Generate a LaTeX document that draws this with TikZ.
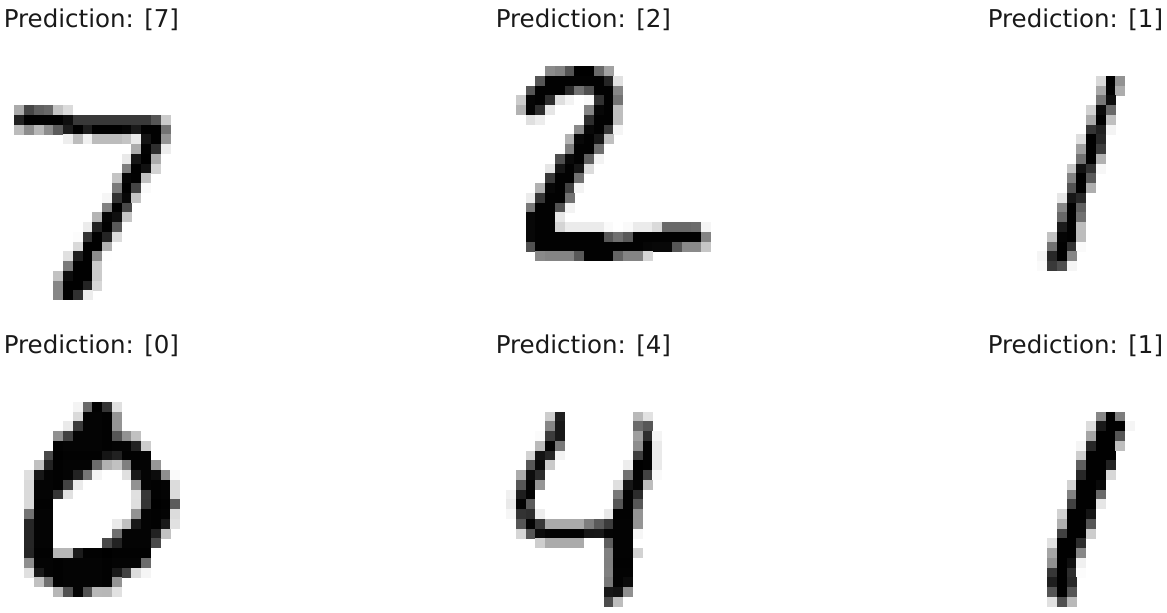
\documentclass[tikz,border=0pt]{standalone}
\usepackage{fontspec}
\setmainfont{DejaVu Sans}

\tikzset{
  predlabel/.style={anchor=base west, inner sep=0pt, font=\fontsize{18.4}{22}\selectfont, text=black!90},
}

% one row of grey cells per entry: row/first column/{values 0..255}
\newcommand{\digitcells}[2]{%
  \begin{scope}[shift={(#1)}]
    \foreach \r/\c/\vals in {#2}{
      \foreach \v [count=\i from 0] in \vals {
        \pgfmathsetmacro{\g}{\v/2.55}
        \fill[black!\g] ({9.75*(\c+\i)},{9.75*\r}) rectangle ++(10.1,10.1);
      }
    }
  \end{scope}
}

\begin{document}
\begin{tikzpicture}[x=0.75pt, y=-0.75pt]
  \useasboundingbox (0,0) rectangle (1167,612);

  % Coordinates
  \coordinate (D7) at (-44.2, 36.75);
  \coordinate (D2) at (447.5, 36.75);
  \coordinate (D1) at (939.8, 36.75);
  \coordinate (D0) at (-44.2, 362.75);
  \coordinate (D4) at (447.5, 362.75);
  \coordinate (D5) at (939.8, 362.75);

  % Titles
  \node[predlabel] (title7) at (3.5, 27) {Prediction: [7]};
  \node[predlabel] (title2) at (495.5, 27) {Prediction: [2]};
  \node[predlabel] (title1) at (987.5, 27) {Prediction: [1]};
  \node[predlabel] (title0) at (3.5, 353) {Prediction: [0]};
  \node[predlabel] (title4) at (495.5, 353) {Prediction: [4]};
  \node[predlabel] (title5) at (987.5, 353) {Prediction: [1]};

  % Drawing
  \digitcells{D7}{
    7/6/{84,185,159,151,60,36},
    8/6/{222,254,254,254,254,241,198,198,198,198,198,198,198,198,170,52},
    9/6/{67,114,72,114,163,227,254,225,254,254,254,250,229,254,254,140},
    10/11/{17,66,14,67,67,67,59,21,236,254,106},
    11/18/{83,253,209,18},
    12/17/{22,233,255,83},
    13/17/{129,254,238,44},
    14/16/{59,249,254,62},
    15/16/{133,254,187,5},
    16/15/{9,205,248,58},
    17/15/{126,254,182},
    18/14/{75,251,240,57},
    19/13/{19,221,254,166},
    20/12/{3,203,254,219,35},
    21/12/{38,254,254,77},
    22/11/{31,224,254,115,1},
    23/11/{133,254,254,52},
    24/10/{61,242,254,254,52},
    25/10/{121,254,254,219,40},
    26/10/{121,254,207,18}}

  \digitcells{D2}{
    3/10/{116,125,171,255,255,150,93},
    4/9/{169,253,253,253,253,253,253,218,30},
    5/8/{169,253,253,253,213,142,176,253,253,122},
    6/7/{52,250,253,210,32,12,0,6,206,253,140},
    7/7/{77,251,210,25,0,0,0,122,248,253,65},
    8/8/{31,18,0,0,0,0,209,253,253,65},
    9/13/{117,247,253,198,10},
    10/12/{76,247,253,231,63},
    11/12/{128,253,253,144},
    12/11/{176,246,253,159,12},
    13/10/{25,234,253,233,35},
    14/10/{198,253,253,141},
    15/9/{78,248,253,189,12},
    16/8/{19,200,253,253,141},
    17/8/{134,253,253,173,12},
    18/8/{248,253,253,25},
    19/8/{248,253,253,43,20,20,20,20,5,0,5,20,20,37,150,150,150,147,10},
    20/8/{248,253,253,253,253,253,253,253,168,143,166,253,253,253,253,253,253,253,123},
    21/8/{174,253,253,253,253,253,253,253,253,253,253,253,249,247,247,169,117,117,57},
    22/9/{118,123,123,123,166,253,253,253,155,123,123,41}}

  \digitcells{D1}{
    4/16/{38,254,109},
    5/16/{87,252,82},
    6/16/{135,241},
    7/15/{45,244,150},
    8/15/{84,254,63},
    9/15/{202,223,11},
    10/14/{32,254,216},
    11/14/{95,254,195},
    12/14/{140,254,77},
    13/13/{57,237,205,8},
    14/13/{124,255,165},
    15/13/{171,254,81},
    16/12/{24,232,215},
    17/12/{120,254,159},
    18/12/{151,254,142},
    19/12/{228,254,66},
    20/11/{61,251,254,66},
    21/11/{141,254,205,5},
    22/10/{10,215,254,121},
    23/10/{5,198,176,10}}

  \digitcells{D0}{
    4/12/{11,150,253,202,31},
    5/12/{37,251,251,253,107},
    6/11/{21,197,251,251,253,107},
    7/10/{110,190,251,251,251,253,169,109,62},
    8/10/{253,251,251,251,251,253,251,251,220,51},
    9/9/{182,255,253,253,253,253,234,222,253,253,253},
    10/8/{63,221,253,251,251,251,147,77,62,128,251,251,105},
    11/7/{32,231,251,253,251,220,137,10,0,0,31,230,251,243,113,5},
    12/7/{37,251,251,253,188,20,0,0,0,0,0,109,251,253,251,35},
    13/7/{37,251,251,201,30,0,0,0,0,0,0,31,200,253,251,35},
    14/7/{37,253,253,0,0,0,0,0,0,0,0,32,202,255,253,164},
    15/7/{140,251,251,0,0,0,0,0,0,0,0,109,251,253,251,35},
    16/7/{217,251,251,0,0,0,0,0,0,21,63,231,251,253,230,30},
    17/7/{217,251,251,0,0,0,0,0,0,144,251,251,251,221,61},
    18/7/{217,251,251,0,0,0,0,0,182,221,251,251,251,180},
    19/7/{218,253,253,73,73,228,253,253,255,253,253,253,253},
    20/7/{113,251,251,253,251,251,251,251,253,251,251,251,147},
    21/7/{31,230,251,253,251,251,251,251,253,230,189,35,10},
    22/8/{62,142,253,251,251,251,251,253,107},
    23/10/{72,174,251,173,71,72,30}}

  \digitcells{D4}{
    5/10/{50,224,0,0,0,0,0,0,0,70,29},
    6/10/{121,231,0,0,0,0,0,0,0,148,168},
    7/9/{4,195,231,0,0,0,0,0,0,0,96,210,11},
    8/9/{69,252,134,0,0,0,0,0,0,0,114,252,21},
    9/8/{45,236,217,12,0,0,0,0,0,0,0,192,252,21},
    10/8/{168,247,53,0,0,0,0,0,0,0,18,255,253,21},
    11/7/{84,242,211,0,0,0,0,0,0,0,0,141,253,189,5},
    12/7/{169,252,106,0,0,0,0,0,0,0,32,232,250,66},
    13/6/{15,225,252,0,0,0,0,0,0,0,0,134,252,211},
    14/6/{22,252,164,0,0,0,0,0,0,0,0,169,252,167},
    15/6/{9,204,209,18,0,0,0,0,0,0,22,253,253,107},
    16/7/{169,252,199,85,85,85,85,129,164,195,252,252,106},
    17/7/{41,170,245,252,252,252,252,232,231,251,252,252,9},
    18/9/{49,84,84,84,84,0,0,161,252,252},
    19/16/{127,252,252,45},
    20/16/{128,253,253},
    21/16/{127,252,252},
    22/16/{135,252,244},
    23/16/{232,236,111},
    24/16/{179,66}}

  \digitcells{D5}{
    5/16/{120,254,130},
    6/15/{35,230,254,254,10},
    7/15/{90,254,254,170},
    8/14/{10,215,254,254,65},
    9/14/{50,254,254,254},
    10/14/{160,254,254,220},
    11/14/{215,254,254,40},
    12/13/{45,254,254,245},
    13/13/{125,254,254,150},
    14/13/{190,254,254,25},
    15/12/{45,254,254,235},
    16/12/{80,254,254,170},
    17/12/{190,254,254,50},
    18/11/{30,254,254,210},
    19/11/{90,254,254,120},
    20/11/{110,254,240,15},
    21/11/{200,254,210,3},
    22/11/{225,254,215},
    23/11/{170,254,170},
    24/11/{30,175,70}}
\end{tikzpicture}
\end{document}
